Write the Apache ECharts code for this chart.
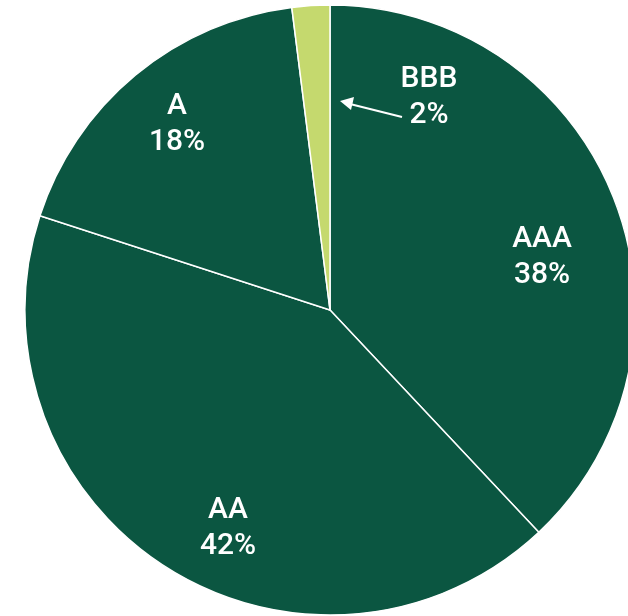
<!DOCTYPE html>
<html>
<head>
<meta charset="utf-8">
<script src="https://cdn.jsdelivr.net/npm/echarts@6/dist/echarts.min.js"></script>
<style>
  html, body { margin: 0; padding: 0; background: #fff; }
  #chart { width: 628px; height: 616px; }
</style>
</head>
<body>
<div id="chart"></div>
<script>
  const ratings = ['AAA', 'AA', 'A', 'BBB'];
  const shares = [38, 42, 18, 2];
  const sliceColors = ['#0b5641', '#0b5641', '#0b5641', '#c5d96e'];

  // label centres (placed by hand, as in the original)
  const labelSpots = [[542, 257], [228, 528], [177, 124], [429, 97]];

  const myChart = echarts.init(document.getElementById('chart'));

  const option = {
    animation: false,
    series: [
      {
        type: 'pie',
        center: [330, 310],
        radius: 305,
        startAngle: 90,
        clockwise: true,
        silent: true,
        itemStyle: {
          borderColor: '#ffffff',
          borderWidth: 1.5
        },
        label: {
          show: true,
          position: 'inside',
          color: '#ffffff',
          fontFamily: 'Roboto, sans-serif',
          fontWeight: 500,
          fontSize: 30,
          lineHeight: 36,
          align: 'center',
          formatter: (p) => p.name + '\n' + p.value + '%'
        },
        labelLine: { show: false },
        labelLayout: (p) => ({
          x: labelSpots[p.dataIndex][0],
          y: labelSpots[p.dataIndex][1],
          align: 'center',
          verticalAlign: 'middle'
        }),
        data: ratings.map((name, i) => ({
          name: name,
          value: shares[i],
          itemStyle: { color: sliceColors[i] }
        }))
      }
    ],
    graphic: [
      {
        type: 'line',
        z: 100,
        shape: { x1: 402, y1: 117, x2: 350, y2: 104 },
        style: { stroke: '#ffffff', lineWidth: 2 }
      },
      {
        type: 'polygon',
        z: 100,
        shape: { points: [[340, 101], [354, 97], [351, 110]] },
        style: { fill: '#ffffff' }
      }
    ]
  };

  myChart.setOption(option);
</script>
</body>
</html>
